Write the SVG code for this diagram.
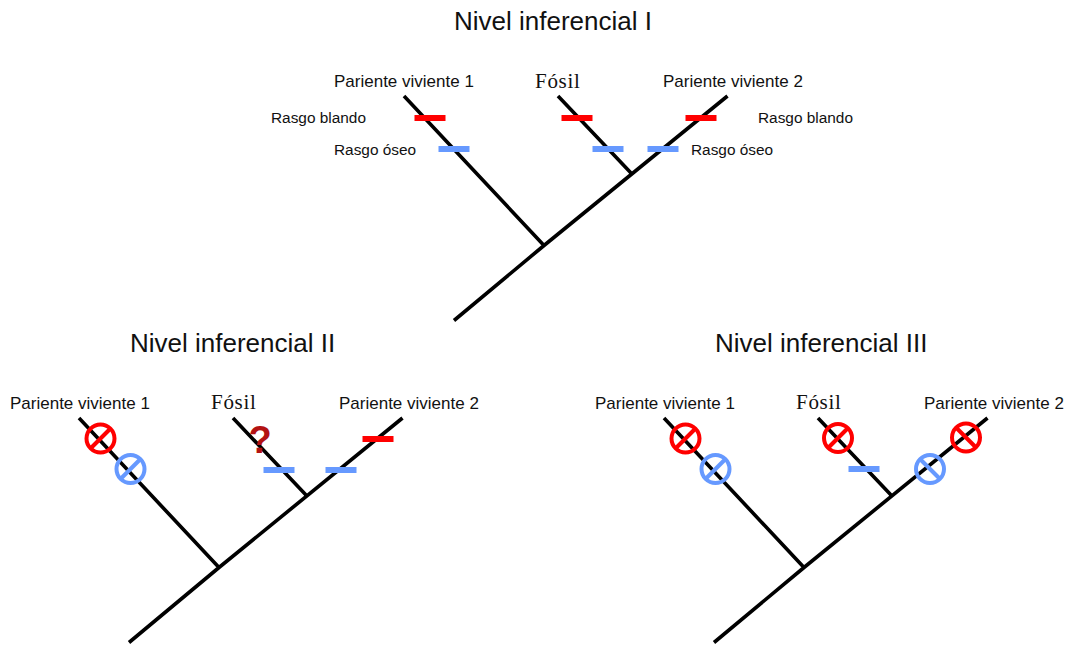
<svg xmlns="http://www.w3.org/2000/svg" width="1066" height="645" viewBox="0 0 1066 645">
<style>
text{font-family:"Liberation Sans",Arial,sans-serif;fill:#111}
.t{font-size:26px}
.l{font-size:17px}
.s{font-size:15.4px}
.f{font-family:"Liberation Serif","Times New Roman",serif;font-size:21px;letter-spacing:.7px}
.b{fill:none;stroke:#000;stroke-width:3.6}
.r{fill:#f00}.u{fill:#69f}
.cr{fill:none;stroke:#f00;stroke-width:4}
.cu{fill:none;stroke:#69f;stroke-width:4}
</style>
<defs>
<path id="tree" class="b" d="M0 224.500L90 149.500M90 149.500L-50 0M90 149.500L273.500 0M177 77L104 0"/>
<rect id="bar" x="-15.500" y="-3" width="31" height="6"/>
<g id="xl"><circle r="14"/><path d="M-10 10L10 -10"/></g>
<g id="xr"><circle r="14"/><path d="M-10 -10L10 10"/></g>
</defs>
<g id="connectors">
<use href="#tree" x="454" y="96"/>
<use href="#tree" x="129" y="418"/>
<use href="#tree" x="714" y="418"/>
</g>
<g id="panel-1">
<text class="t" x="454" y="30">Nivel inferencial I</text>
<g id="n1-p1"><text class="l" x="334" y="87">Pariente viviente 1</text><use href="#bar" class="r" x="430" y="118"/><use href="#bar" class="u" x="454" y="149"/></g>
<g id="n1-f"><text class="f" x="535" y="88">Fósil</text><use href="#bar" class="r" x="577" y="118"/><use href="#bar" class="u" x="608" y="149"/></g>
<g id="n1-p2"><text class="l" x="663" y="87">Pariente viviente 2</text><use href="#bar" class="r" x="701" y="118"/><use href="#bar" class="u" x="663" y="149"/></g>
<text class="s" x="271" y="123">Rasgo blando</text>
<text class="s" x="334" y="155">Rasgo óseo</text>
<text class="s" x="758" y="123">Rasgo blando</text>
<text class="s" x="691" y="155">Rasgo óseo</text>
</g>
<g id="panel-2">
<text class="t" x="130" y="352">Nivel inferencial II</text>
<g id="n2-p1"><text class="l" x="10" y="409">Pariente viviente 1</text><use href="#xl" class="cr" x="100.500" y="438.500"/><use href="#xl" class="cu" x="130.500" y="469"/></g>
<g id="n2-f"><text class="f" x="211" y="409">Fósil</text><text x="260" y="453" text-anchor="middle" font-size="38" font-weight="bold" style="fill:#b31212">?</text><use href="#bar" class="u" x="279" y="470"/></g>
<g id="n2-p2"><text class="l" x="339" y="409">Pariente viviente 2</text><use href="#bar" class="r" x="378" y="439"/><use href="#bar" class="u" x="341" y="470"/></g>
</g>
<g id="panel-3">
<text class="t" x="715" y="352">Nivel inferencial III</text>
<g id="n3-p1"><text class="l" x="595" y="409">Pariente viviente 1</text><use href="#xl" class="cr" x="685.500" y="438.500"/><use href="#xl" class="cu" x="715.500" y="469"/></g>
<g id="n3-f"><text class="f" x="796" y="409">Fósil</text><use href="#xl" class="cr" x="838" y="438"/><use href="#bar" class="u" x="864" y="469"/></g>
<g id="n3-p2"><text class="l" x="924" y="409">Pariente viviente 2</text><use href="#xr" class="cr" x="966" y="437.500"/><use href="#xr" class="cu" x="930" y="469"/></g>
</g>
</svg>
